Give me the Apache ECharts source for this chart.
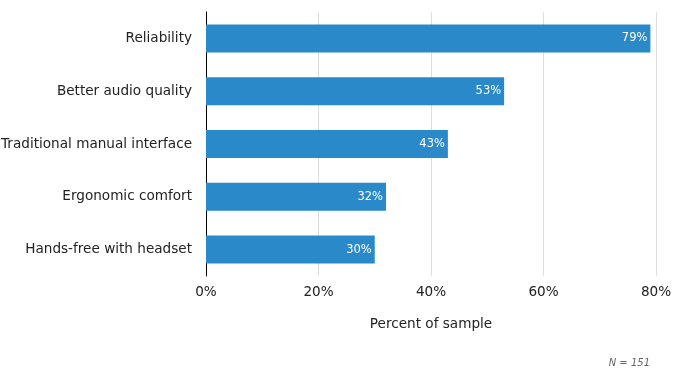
<!DOCTYPE html>
<html><head><meta charset="utf-8">
<script src="https://cdn.jsdelivr.net/npm/echarts@6/dist/echarts.min.js"></script>
<style>html,body{margin:0;padding:0;background:#fff}#c{width:675px;height:388px}</style>
</head><body><div id="c"></div>
<script>
const categories = ["Reliability", "Better audio quality", "Traditional manual interface", "Ergonomic comfort", "Hands-free with headset"];
const values = [79, 53, 43, 32, 30];
const xTicks = [0, 20, 40, 60, 80];
const note = "N = 151";

const chart = echarts.init(document.getElementById('c'), null, {renderer: 'canvas'});
const font = "DejaVu Sans";
chart.setOption({
  animation: false,
  textStyle: {fontFamily: font},
  grid: {left: 206, right: 19, top: 12, bottom: 112, containLabel: false, outerBoundsMode: 'none'},
  xAxis: {
    type: 'value', min: 0, max: 80, interval: 20,
    axisLine: {show: false}, axisTick: {show: false},
    splitLine: {show: true, lineStyle: {color: '#dddddd', width: 1}},
    axisLabel: {formatter: v => v + '%', color: '#222', fontSize: 13.6, fontFamily: font, margin: 9},
    name: 'Percent of sample', nameLocation: 'middle', nameGap: 41,
    nameTextStyle: {color: '#222', fontSize: 13.6, fontFamily: font}
  },
  yAxis: {
    type: 'category', data: categories, inverse: true,
    axisLine: {show: true, lineStyle: {color: '#000', width: 1}},
    axisTick: {show: false},
    axisLabel: {color: '#222', fontSize: 13.6, fontFamily: font, margin: 14}
  },
  series: [{
    type: 'bar', data: values, barWidth: 28,
    itemStyle: {color: '#2a8ac9'},
    label: {show: true, position: 'insideRight', formatter: p => p.value + '%', color: '#fff', fontSize: 11.5, fontFamily: font, distance: 3}
  }],
  graphic: [{
    type: 'text', right: 25, top: 358,
    style: {text: note, fill: '#666', font: 'italic 10px "DejaVu Sans"'}
  }]
});
</script></body></html>
